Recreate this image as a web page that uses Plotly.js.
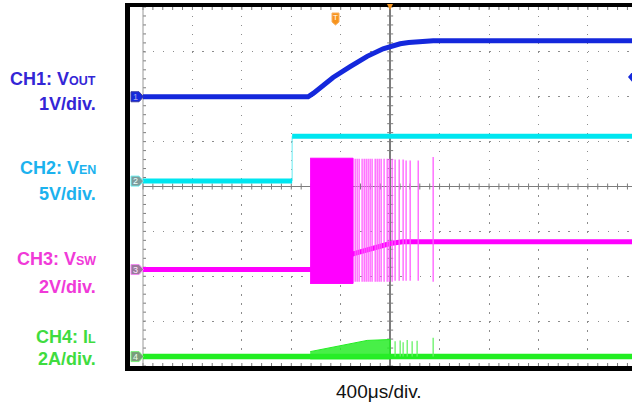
<!DOCTYPE html>
<html><head><meta charset="utf-8">
<script src="https://cdn.plot.ly/plotly-3.0.1.min.js"></script>
<style>html,body{margin:0;padding:0;background:#fff}#chart{width:632px;height:407px}</style>
</head><body><div id="chart"></div>
<script>
// ---------- data (time in µs, amplitude in screen divisions) ----------
const ch1Time = [-2000, -664, -620, -567, -462, -324, -186, -57, 0, 81, 150, 219, 348, 1957];
const ch1Div  = [2.0, 2.0, 2.08, 2.2, 2.43, 2.67, 2.9, 3.07, 3.12, 3.18, 3.21, 3.23, 3.25, 3.25];

const ch2Time = [-2000, -793, -793, 1957];
const ch2Div  = [0.12, 0.12, 1.12, 1.12];

const ch3Time = [-2000, -648, -300, -150, 0, 100, 1957];
const ch3Div  = [-1.85, -1.85, -1.5, -1.38, -1.27, -1.23, -1.23];
const ch3BurstTime   = [-648, -300];
const ch3BurstTop    = [0.63, 0.63];
const ch3BurstBottom = [-2.16, -2.16];
const ch3SpikeTime = [-283, -267, -251, -227, -210, -194, -178, -162, -146, -121, -105, -89, -73, -49, -24, -8, 16, 40, 73, 105, 129, 162, 227, 348];
const ch3SpikeTop    = [0.62, 0.62, 0.62, 0.62, 0.62, 0.62, 0.62, 0.62, 0.62, 0.62, 0.62, 0.62, 0.62, 0.62, 0.62, 0.62, 0.62, 0.6, 0.6, 0.6, 0.58, 0.58, 0.58, 0.66];
const ch3SpikeBottom = [-2.12, -2.12, -2.12, -2.12, -2.12, -2.12, -2.12, -2.12, -2.12, -2.12, -2.12, -2.12, -2.12, -2.12, -2.12, -2.12, -2.12, -2.1, -2.1, -2.1, -2.1, -2.1, -2.1, -2.12];

const ch4Time = [-2000, 1957];
const ch4Div  = [-3.79, -3.79];
const ch4RampTime = [-647, -500, -380, -186, 0];
const ch4RampTop  = [-3.68, -3.6, -3.52, -3.43, -3.41];
const ch4SpikeTime = [40, 81, 105, 138, 178, 218, 348];
const ch4SpikeTop  = [-3.45, -3.43, -3.47, -3.42, -3.45, -3.44, -3.37];

const chNames  = ['CH1: V', 'CH2: V', 'CH3: V', 'CH4: I'];
const chSubs   = ['OUT', 'EN', 'SW', 'L'];
const chScales = ['1V/div.', '5V/div.', '2V/div.', '2A/div.'];
const timebase = '400μs/div.';

// ---------- layout geometry ----------
const W = 632, H = 407, ML = 143, MR = 0, MT = 7, MB = 41;
const PW = W - ML - MR, PH = H - MT - MB;
const X0 = -2000, X1 = 1957, Y0 = -4, Y1 = 4;
const px = x => (x - ML) / PW;          // pixel -> paper x
const py = y => (MT + PH - y) / PH;     // pixel -> paper y
const divToPix = d => MT + (Y1 - d) / (Y1 - Y0) * PH;
const tToPix = t => ML + (t - X0) / (X1 - X0) * PW;

const colors = {
  c1: '#1428dc', c2: '#00e6f0', c3: '#ff00ff', c3s: '#ff5cff', c4: '#22ee22', c4s: '#66f266'
};
const textColors = ['#3326d6', '#1cb2ee', '#f03ad8', '#3fdc3f'];

function spikes(ts, tops, bots) {
  const x = [], y = [];
  ts.forEach((t, i) => { x.push(t, t, null); y.push(bots[i], tops[i], null); });
  return {x, y};
}

const s3 = spikes(ch3SpikeTime, ch3SpikeTop, ch3SpikeBottom);
const s4 = spikes(ch4SpikeTime, ch4SpikeTop, ch4SpikeTime.map(() => ch4Div[0]));

const traces = [
  // CH1
  {x: ch1Time, y: ch1Div, mode: 'lines', line: {color: colors.c1, width: 5}},
  // CH2 edge + levels
  {x: ch2Time.slice(1, 3), y: ch2Div.slice(1, 3), mode: 'lines', line: {color: '#7eeef4', width: 1.2}},
  {x: [ch2Time[0], ch2Time[1], null, ch2Time[2], ch2Time[3]], y: [ch2Div[0], ch2Div[1], null, ch2Div[2], ch2Div[3]], mode: 'lines', line: {color: colors.c2, width: 5}},
  // CH3
  {x: ch3Time, y: ch3Div, mode: 'lines', line: {color: colors.c3, width: 5}},
  {x: s3.x, y: s3.y, mode: 'lines', line: {color: colors.c3s, width: 1.3}},
  {x: [ch3BurstTime[0], ch3BurstTime[1], ch3BurstTime[1], ch3BurstTime[0]], y: [ch3BurstBottom[0], ch3BurstBottom[1], ch3BurstTop[1], ch3BurstTop[0]],
   mode: 'lines', fill: 'toself', fillcolor: colors.c3, line: {color: colors.c3, width: 1}},
  // CH4
  {x: ch4Time, y: ch4Div, mode: 'lines', line: {color: colors.c4, width: 5.5}},
  {x: ch4RampTime.concat(ch4RampTime.slice().reverse()), y: ch4RampTop.concat(ch4RampTime.map(() => ch4Div[0] - 0.05)),
   mode: 'lines', fill: 'toself', fillcolor: 'rgba(40,236,40,0.85)', line: {color: colors.c4, width: 1}},
  {x: s4.x, y: s4.y, mode: 'lines', line: {color: colors.c4s, width: 1.3}}
];
traces.forEach(t => { t.hoverinfo = 'skip'; t.showlegend = false; });

// ---------- graticule decorations ----------
const shapes = [];
const gc = '#7c7c7c';
const xDiv = PW / ((X1 - X0) / 400);   // px per x division
const yDiv = PH / 8;                    // px per y division
const cx = tToPix(0), cy = divToPix(0);
let pv = '', ph = '', pl = '', pt = '', pb = '';
for (let k = 0; k <= 40; k++) {
  const y = MT + k * yDiv / 5;
  pv += `M${px(cx - 3)},${py(y)}L${px(cx + 3)},${py(y)}`;
  pl += `M${px(ML)},${py(y)}L${px(ML + 3)},${py(y)}`;
}
for (let k = 0; k <= 50; k++) {
  const x = ML + k * xDiv / 5;
  if (x > W) break;
  ph += `M${px(x)},${py(cy - 3)}L${px(x)},${py(cy + 3)}`;
  pt += `M${px(x)},${py(MT)}L${px(x)},${py(MT + 3)}`;
  pb += `M${px(x)},${py(MT + PH)}L${px(x)},${py(MT + PH - 3)}`;
}
[pv, ph, pl, pt, pb].forEach(p => shapes.push({type: 'path', xref: 'paper', yref: 'paper', path: p, line: {color: gc, width: 1}, layer: 'below'}));
shapes.push({type: 'line', xref: 'paper', yref: 'paper', x0: 0, x1: 0, y0: 0, y1: 1, line: {color: '#9a9a9a', width: 1}, layer: 'below'});

// black frame
shapes.push({type: 'rect', xref: 'paper', yref: 'paper', x0: px(125), x1: px(130), y0: py(371), y1: py(3), fillcolor: '#000', line: {width: 0}});
shapes.push({type: 'rect', xref: 'paper', yref: 'paper', x0: px(125), x1: px(W + 2), y0: py(MT), y1: py(3), fillcolor: '#000', line: {width: 0}});
shapes.push({type: 'rect', xref: 'paper', yref: 'paper', x0: px(125), x1: px(W + 2), y0: py(371), y1: py(MT + PH), fillcolor: '#000', line: {width: 0}});

// channel markers
const markerFill = [colors.c1, '#7f9c9c', '#9c7a9c', '#7a9c7a'];
const markerLine = ['#3a3aa0', '#6ff0f0', '#f08af0', '#7af07a'];
const markerText = ['#a8a8e8', '#e8ffff', '#ffe8ff', '#e8ffe8'];
const levels = [ch1Div[0], ch2Div[0], ch3Div[0], ch4Div[0]];
const annotations = [];
levels.forEach((lv, i) => {
  const y = divToPix(lv);
  const p = `M${px(131)},${py(y - 5)}L${px(139)},${py(y - 5)}L${px(143.5)},${py(y)}L${px(139)},${py(y + 5)}L${px(131)},${py(y + 5)}Z`;
  shapes.push({type: 'path', xref: 'paper', yref: 'paper', path: p, fillcolor: markerFill[i], line: {color: markerLine[i], width: 1}});
  annotations.push({xref: 'paper', yref: 'paper', x: px(135.5), y: py(y), text: String(i + 1), showarrow: false,
    font: {family: 'Liberation Sans, Arial', size: 9, color: markerText[i]}, xanchor: 'center', yanchor: 'middle'});
});

// trigger markers
shapes.push({type: 'path', xref: 'paper', yref: 'paper', path: `M${px(387)},${py(4)}L${px(393)},${py(4)}L${px(390)},${py(10)}Z`, fillcolor: '#f7941d', line: {width: 0}});
shapes.push({type: 'path', xref: 'paper', yref: 'paper',
  path: `M${px(332)},${py(13)}L${px(339)},${py(13)}L${px(339)},${py(22)}L${px(335.5)},${py(25)}L${px(332)},${py(22)}Z`, fillcolor: '#f7941d', line: {color: '#f9b060', width: 1}});
annotations.push({xref: 'paper', yref: 'paper', x: px(335.5), y: py(18), text: 'T', showarrow: false,
  font: {family: 'Liberation Sans, Arial', size: 8, color: '#fff'}, xanchor: 'center', yanchor: 'middle'});
shapes.push({type: 'path', xref: 'paper', yref: 'paper', path: `M${px(W + 1)},${py(71)}L${px(628)},${py(77)}L${px(W + 1)},${py(83)}Z`, fillcolor: colors.c1, line: {width: 0}});

// labels
const baselines1 = [85, 174, 265, 343];
const baselines2 = [110, 200, 293, 365];
const fs = 18;
chNames.forEach((n, i) => {
  annotations.push({xref: 'paper', yref: 'paper', x: px(98), y: py(baselines1[i] - 0.35 * fs), xanchor: 'right', yanchor: 'middle', showarrow: false,
    text: `<b>${n}<span style="font-size:12.5px">${chSubs[i]}</span></b>`, font: {family: 'Liberation Sans, Arial', size: fs, color: textColors[i]}});
  annotations.push({xref: 'paper', yref: 'paper', x: px(98), y: py(baselines2[i] - 0.35 * fs), xanchor: 'right', yanchor: 'middle', showarrow: false,
    text: `<b>${chScales[i]}</b>`, font: {family: 'Liberation Sans, Arial', size: fs, color: textColors[i]}});
});
annotations.push({xref: 'paper', yref: 'paper', x: px(379), y: py(398 - 0.35 * 19), xanchor: 'center', yanchor: 'middle', showarrow: false,
  text: timebase, font: {family: 'Liberation Sans, Arial', size: 19, color: '#111'}});

const layout = {
  width: W, height: H,
  margin: {l: ML, r: MR, t: MT, b: MB, pad: 0},
  paper_bgcolor: '#fff', plot_bgcolor: '#fff',
  showlegend: false,
  xaxis: {range: [X0, X1], tick0: X0, dtick: 400, showgrid: true, gridcolor: '#8c8c8c', gridwidth: 1,
    griddash: `1.5px,${(yDiv / 5 - 1.5).toFixed(3)}px`, zeroline: true, zerolinecolor: gc, zerolinewidth: 1.5,
    showticklabels: false, ticks: '', showline: false, fixedrange: true},
  yaxis: {range: [Y0, Y1], tick0: 0, dtick: 1, showgrid: true, gridcolor: '#8c8c8c', gridwidth: 1,
    griddash: `1.5px,${(xDiv / 5 - 1.5).toFixed(3)}px`, zeroline: true, zerolinecolor: gc, zerolinewidth: 1.5,
    showticklabels: false, ticks: '', showline: false, fixedrange: true},
  shapes: shapes,
  annotations: annotations
};

Plotly.newPlot('chart', traces, layout, {displayModeBar: false, staticPlot: true});
</script>
</body></html>
